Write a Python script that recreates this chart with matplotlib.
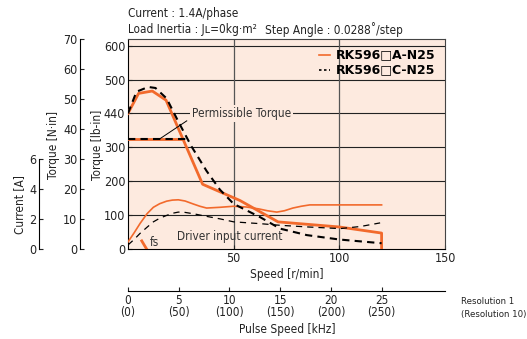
import matplotlib
matplotlib.use('Agg')
import matplotlib.pyplot as plt

# Speed axis (r/min) and torque (lb-in)
speed_A = [0, 5, 11.5, 18, 35.3, 53, 71, 100, 120, 120]
torque_A = [400, 459, 466, 439, 191, 143, 80, 65, 47, 0]

speed_C = [0, 4, 9.6, 13, 18.3, 23.8, 30, 37.2, 43.5, 50, 62.5, 72, 84.6, 100, 120]
torque_C = [400, 464, 478, 475, 444, 376, 303, 230, 175, 133, 94, 60, 41, 28, 17]

perm_speed_A = [0, 25.5]
perm_speed_C = [0, 29]
perm_torque = [324, 324]

# Driver input current [A]
cur_speed_A = [0, 3, 5.7, 9, 12, 15, 18.3, 21, 23.8, 27, 30.9, 34, 37.2, 43.5, 50, 56, 62, 66, 70.4, 74, 78, 82, 86, 100, 120]
cur_A = [0.47, 1.1, 1.7, 2.35, 2.78, 3.02, 3.19, 3.26, 3.28, 3.2, 3.0, 2.85, 2.73, 2.78, 2.85, 2.8, 2.67, 2.55, 2.46, 2.55, 2.73, 2.85, 2.94, 2.94, 2.94]

cur_speed_C = [0, 3, 5.7, 9, 12, 15, 18.3, 21, 23.8, 27, 31, 37, 43.5, 50, 62.5, 72, 85, 100.3, 110, 119.3]
cur_C = [0.27, 0.65, 1.04, 1.45, 1.81, 2.05, 2.24, 2.38, 2.46, 2.44, 2.35, 2.18, 2.01, 1.81, 1.69, 1.58, 1.47, 1.36, 1.5, 1.74]

fs_speed = [6.5, 8.8]
fs_torque = [24, 0]

pulse_ticks = [0, 5, 10, 15, 20, 25]
pulse_labels = ['0\n(0)', '5\n(50)', '10\n(100)', '15\n(150)', '20\n(200)', '25\n(250)']

plt.rcParams['font.family'] = ['DejaVu Sans']
plt.rcParams['font.stretch'] = 'condensed'

BG = '#fdeadf'
ORANGE = '#f26a2c'
TXT = '#222222'
NIN = 8.85          # lb-in per N·in
AMP = 5 * NIN       # lb-in per A on the chart scale (6 A <-> 30 N·in)

W, H = 527, 339
fig = plt.figure(figsize=(W / 100, H / 100), dpi=100)

def fx(px):
    return px / W

def fy(py):
    return 1 - py / H

ax = fig.add_axes([fx(128), fy(249), fx(445) - fx(128), fy(39) - fy(249)])
ax.set_facecolor(BG)
ax.set_xlim(0, 150)
ax.set_ylim(0, 70 * NIN)

for y in [100, 200, 300, 400, 500, 600]:
    ax.axhline(y, color='#222222', lw=0.8, zorder=1)
for x in [50, 100]:
    ax.axvline(x, color='#555555', lw=0.9, zorder=1)

ax.plot(perm_speed_A, perm_torque, color=ORANGE, lw=2.0, zorder=3)
ax.plot(perm_speed_C, perm_torque, color='black', lw=1.5, ls=(0, (3.5, 2.5)), zorder=4)
ax.plot(speed_A, torque_A, color=ORANGE, lw=2.0, zorder=3)
ax.plot(speed_C, torque_C, color='black', lw=1.5, ls=(0, (3.5, 2.5)), zorder=4)
ax.plot(cur_speed_A, [c * AMP for c in cur_A], color=ORANGE, lw=1.2, zorder=3)
ax.plot(cur_speed_C, [c * AMP for c in cur_C], color='black', lw=0.9, ls=(0, (5, 4)), zorder=3)
ax.plot(fs_speed, fs_torque, color=ORANGE, lw=2.0, zorder=3)

ax.plot([14.8, 27.8], [324, 378], color='black', lw=0.7, zorder=5)
ax.text(30.3, 400, 'Permissible Torque', fontsize=8.5, color='#333333', va='center', ha='left',
        bbox=dict(facecolor=BG, edgecolor='none', pad=1.5), zorder=6)
ax.text(23.2, 37, 'Driver input current', fontsize=8.5, color='#333333', va='center', ha='left', zorder=6)
ax.text(10.4, 18, 'fs', fontsize=8.5, color='#333333', va='center', ha='left', zorder=6)

# legend
ax.plot([0.603, 0.637], [0.924, 0.924], transform=ax.transAxes, color=ORANGE, lw=1.2)
ax.plot([0.603, 0.637], [0.852, 0.852], transform=ax.transAxes, color='black', lw=1.2, ls=(0, (1.5, 1.5)))
ax.text(0.97, 0.924, 'RK596\u25a1A-N25', transform=ax.transAxes, ha='right', va='center',
        fontsize=9, fontweight='bold', fontstretch='normal', zorder=6)
ax.text(0.97, 0.852, 'RK596\u25a1C-N25', transform=ax.transAxes, ha='right', va='center',
        fontsize=9, fontweight='bold', fontstretch='normal', zorder=6)

ax.set_xticks([50, 100, 150])
ax.set_yticks([0, 100, 200, 300, 400, 500, 600])
ax.set_yticklabels(['0', '100', '200', '300', '440', '500', '600'])
ax.tick_params(direction='in', length=3, labelsize=9, pad=2, colors=TXT)
ax.set_xlabel('Speed [r/min]', fontsize=8.5, labelpad=2, color=TXT)
for s in ['top', 'right']:
    ax.spines[s].set_color('#444444')

# N·in axis
ax_n = fig.add_axes([fx(80), fy(249), 0.0001, fy(39) - fy(249)])
ax_n.set_ylim(0, 70)
ax_n.set_yticks(range(0, 71, 10))
ax_n.tick_params(axis='y', direction='in', length=3, labelsize=9, pad=2, colors=TXT)
ax_n.set_xticks([])
for s in ['top', 'right', 'bottom']:
    ax_n.spines[s].set_visible(False)
ax_n.patch.set_visible(False)

# Current axis
ax_c = fig.add_axes([fx(39), fy(249), 0.0001, fy(39) - fy(249)])
ax_c.set_ylim(0, 70 / 5)
ax_c.set_yticks([0, 2, 4, 6])
ax_c.spines['left'].set_bounds(0, 6)
ax_c.tick_params(axis='y', direction='in', length=3, labelsize=9, pad=2, colors=TXT)
ax_c.set_xticks([])
for s in ['top', 'right', 'bottom']:
    ax_c.spines[s].set_visible(False)
ax_c.patch.set_visible(False)

# Pulse speed axis
ax_p = fig.add_axes([fx(128), fy(291), fx(445) - fx(128), 0.0001])
ax_p.set_xlim(0, 150 / 4.8)
ax_p.set_xticks(pulse_ticks)
ax_p.set_xticklabels(pulse_labels, linespacing=0.95)
ax_p.tick_params(axis='x', direction='in', length=3, labelsize=8.5, pad=2, colors=TXT)
ax_p.set_yticks([])
for s in ['top', 'right', 'left']:
    ax_p.spines[s].set_visible(False)
ax_p.patch.set_visible(False)

fig.text(fx(97), fy(145), 'Torque [lb-in]', rotation=90, fontsize=8.5, ha='center', va='center', color=TXT)
fig.text(fx(53), fy(145), 'Torque [N\u00b7in]', rotation=90, fontsize=8.5, ha='center', va='center', color=TXT)
fig.text(fx(20), fy(205), 'Current [A]', rotation=90, fontsize=8.5, ha='center', va='center', color=TXT)

fig.text(fx(128), fy(14), 'Current : 1.4A/phase', fontsize=8.5, va='center', color=TXT)
fig.text(fx(128), fy(30), 'Load Inertia : J\u029f=0kg\u00b7m\u00b2', fontsize=8.5, va='center', color=TXT)
fig.text(fx(265), fy(30), 'Step Angle : 0.0288\u02da/step', fontsize=8.5, va='center', color=TXT)
fig.text(fx(287), fy(330), 'Pulse Speed [kHz]', fontsize=8.5, ha='center', va='center', color=TXT)
fig.text(fx(461), fy(301), 'Resolution 1', fontsize=6.8, va='center', ha='left', color=TXT)
fig.text(fx(461), fy(314), '(Resolution 10)', fontsize=6.8, va='center', ha='left', color=TXT)

fig.savefig('out.png', dpi=100)
